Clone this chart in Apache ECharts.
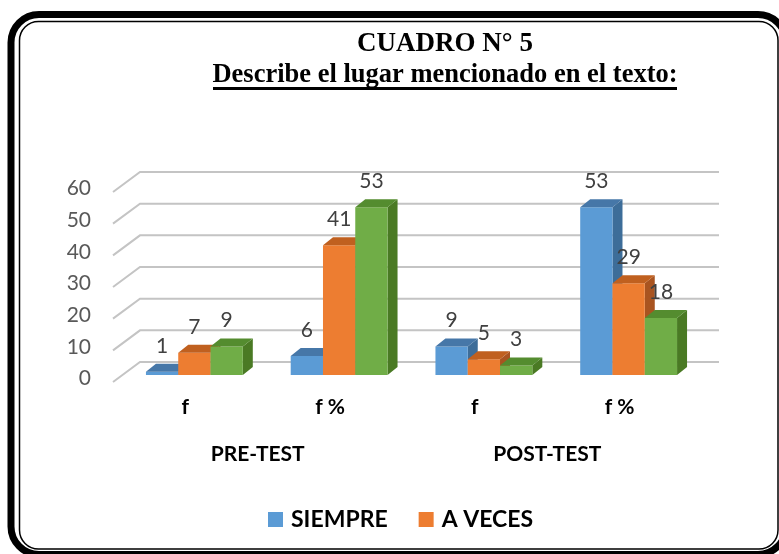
<!DOCTYPE html>
<html>
<head>
<meta charset="utf-8">
<title>Cuadro N° 5</title>
<script src="https://cdn.jsdelivr.net/npm/echarts@6/dist/echarts.min.js"></script>
<style>
    html, body { margin: 0; padding: 0; background: #fff; }
    #graph1 { width: 779px; height: 554px; }
</style>
</head>
<body>
<div id="graph1"></div>
<script>
//datos del cuadro
var categorias = ['f', 'f %', 'f', 'f %'];
var grupos = ['PRE-TEST', 'POST-TEST'];
var nombres = ['SIEMPRE', 'A VECES', 'NUNCA'];
var dataSiempre = [1, 6, 9, 53];
var dataAveces = [7, 41, 5, 29];
var dataNunca = [9, 53, 3, 18];
var ticksY = [0, 10, 20, 30, 40, 50, 60];

//colores: frente, arriba, lado
var colores = ['#5b9bd5', '#ed7d31', '#70ad47'];
var coloresArriba = ['#4677a8', '#c0601f', '#548c2f'];
var coloresLado = ['#3d6d99', '#a95420', '#4a7a24'];
var DX = 10, DY = 8;            //profundidad de las barras
var FX = -9, FY = 7;            //pared lateral hacia adelante
var BX = 18, BY = -13;          //pared del fondo

//barra con efecto 3d
function barra3d(s) {
    return function (params, api) {
        var i = api.value(0);
        var p = api.coord([i, api.value(1)]);
        var b = api.coord([i, 0]);
        var w = api.size([1, 0])[0] * 0.223;
        var x0 = p[0] - w * 1.5 + s * w;
        var x1 = x0 + w;
        var yt = p[1], yb = b[1];
        return {
            type: 'group',
            children: [
                {
                    type: 'polygon',
                    shape: { points: [[x1, yb], [x1, yt], [x1 + DX, yt - DY], [x1 + DX, yb - DY]] },
                    style: { fill: coloresLado[s] }
                },
                {
                    type: 'rect',
                    shape: { x: x0, y: yt, width: w, height: yb - yt },
                    style: { fill: colores[s] }
                },
                {
                    type: 'polygon',
                    shape: { points: [[x0, yt], [x1, yt], [x1 + DX, yt - DY], [x0 + DX, yt - DY]] },
                    style: { fill: coloresArriba[s] }
                }
            ]
        };
    };
}

//lineas de la pared
function lineaFondo(params, api) {
    var y = api.coord([0, api.value(1)])[1];
    var gx = params.coordSys.x;
    var gw = params.coordSys.width;
    return {
        type: 'polyline',
        shape: { points: [[gx + FX, y + FY], [gx + BX, y + BY], [gx + gw + BX, y + BY]] },
        style: { stroke: '#c4c4c4', lineWidth: 2, fill: null }
    };
}

//etiquetas de valores
function etiqueta(params, api) {
    var i = api.value(0);
    var s = api.value(2);
    var p = api.coord([i, api.value(1)]);
    var w = api.size([1, 0])[0] * 0.223;
    var cx = p[0] - w * 1.5 + s * w + w / 2;
    return {
        type: 'text',
        x: cx,
        y: p[1] - 26,
        style: {
            text: String(api.value(1)),
            fill: '#404040',
            fontSize: 21,
            fontFamily: 'Lato',
            align: 'center',
            verticalAlign: 'middle'
        }
    };
}

var series = [];
var etiquetas = [];
[dataSiempre, dataAveces, dataNunca].forEach(function (d, s) {
    series.push({
        name: nombres[s],
        type: 'custom',
        renderItem: barra3d(s),
        itemStyle: { color: colores[s] },
        encode: { x: 0, y: 1 },
        z: 3 + s,
        data: d.map(function (v, i) { return [i, v]; })
    });
    d.forEach(function (v, i) { etiquetas.push([i, v, s]); });
});
series.unshift({
    name: 'fondo',
    type: 'custom',
    renderItem: lineaFondo,
    encode: { x: 0, y: 1 },
    silent: true,
    z: 1,
    data: ticksY.map(function (v) { return [0, v]; })
});
series.push({
    name: 'etiquetas',
    type: 'custom',
    renderItem: etiqueta,
    encode: { x: 0, y: 1 },
    silent: true,
    z: 10,
    data: etiquetas
});

option = {
    animation: false,
    graphic: [
        {
            type: 'rect',
            shape: { x: 11, y: 14.5, width: 775, height: 540, r: 28 },
            style: { fill: 'none', stroke: '#000', lineWidth: 7 }
        },
        {
            type: 'rect',
            shape: { x: 19.5, y: 21.5, width: 758.5, height: 527.5, r: 19 },
            style: { fill: 'none', stroke: '#000', lineWidth: 1.5 }
        },
        {
            type: 'text',
            x: 445, y: 44,
            style: {
                text: 'CUADRO N° 5',
                fill: '#000',
                fontSize: 27, fontWeight: 'bold', fontFamily: 'Liberation Serif',
                align: 'center', verticalAlign: 'middle'
            }
        },
        {
            type: 'text',
            x: 445, y: 75.5,
            style: {
                text: 'Describe el lugar mencionado en el texto:',
                fill: '#000',
                fontSize: 26.5, fontWeight: 'bold', fontFamily: 'Liberation Serif',
                align: 'center', verticalAlign: 'middle'
            }
        },
        {
            type: 'line',
            shape: { x1: 213, y1: 88.5, x2: 677, y2: 88.5 },
            style: { stroke: '#000', lineWidth: 3 }
        }
    ],
    legend: {
        data: ['SIEMPRE', 'A VECES'],
        left: 268,
        top: 508,
        padding: 0,
        itemWidth: 15,
        itemHeight: 15,
        itemGap: 31,
        icon: 'rect',
        selectedMode: false,
        textStyle: {
            fontFamily: 'Lato', fontWeight: 'bold', fontSize: 23, color: '#000',
            padding: [0, 0, 8, 3]
        }
    },
    grid: {
        left: 122,
        right: 78,
        top: 185,
        bottom: 179
    },
    xAxis: [
        {
            type: 'category',
            data: categorias,
            axisLine: { show: false },
            axisTick: { show: false },
            axisLabel: {
                margin: 22,
                padding: [0, 18, 0, 0],
                fontFamily: 'Lato', fontWeight: 'bold', fontSize: 21, color: '#000'
            }
        },
        {
            type: 'category',
            data: grupos,
            position: 'bottom',
            axisLine: { show: false },
            axisTick: { show: false },
            axisLabel: {
                margin: 69,
                padding: [0, 18, 0, 0],
                fontFamily: 'Lato', fontWeight: 'bold', fontSize: 21, color: '#000'
            }
        }
    ],
    yAxis: {
        type: 'value',
        min: 0,
        max: 60,
        interval: 10,
        axisLine: { show: false },
        axisTick: { show: false },
        splitLine: { show: false },
        axisLabel: {
            margin: 31,
            verticalAlign: 'top',
            lineHeight: 7,
            fontFamily: 'Lato', fontSize: 21, color: '#595959'
        }
    },
    series: series
};

var myChart = echarts.init(document.getElementById('graph1'));
myChart.setOption(option);
</script>
</body>
</html>
